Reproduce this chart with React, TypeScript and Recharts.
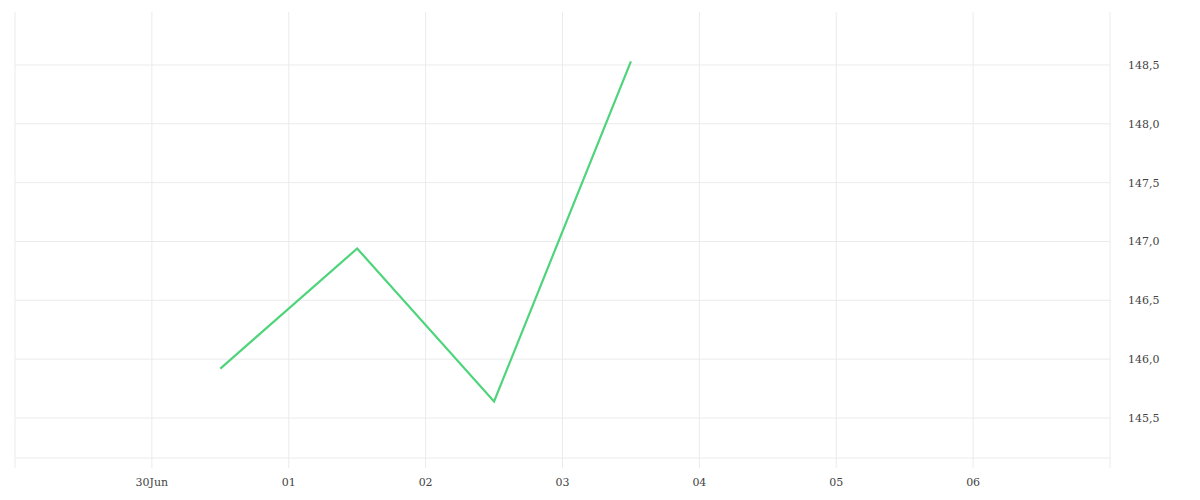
import React from 'react';
import { CartesianGrid, Line, LineChart, ReferenceLine, XAxis, YAxis } from 'recharts';

const dates = ['2024-06-30T12:00:00Z', '2024-07-01T12:00:00Z', '2024-07-02T12:00:00Z', '2024-07-03T12:00:00Z'];
const prices = [145.92, 146.94, 145.64, 148.53];

const xTickDates = [
  '2024-06-29T00:00:00Z',
  '2024-06-30T00:00:00Z',
  '2024-07-01T00:00:00Z',
  '2024-07-02T00:00:00Z',
  '2024-07-03T00:00:00Z',
  '2024-07-04T00:00:00Z',
  '2024-07-05T00:00:00Z',
  '2024-07-06T00:00:00Z',
  '2024-07-07T00:00:00Z',
];
const xTickLabels = ['', '30Jun', '01', '02', '03', '04', '05', '06', ''];
const yTicks = [145.5, 146, 146.5, 147, 147.5, 148, 148.5];

const xTicks = xTickDates.map(d => Date.parse(d));
const data = dates.map((d, i) => ({ t: Date.parse(d), price: prices[i] }));

const FONT = '"DejaVu Serif", serif';
const GRID = '#ebebeb';

const formatX = (v: number) => {
  const i = xTicks.indexOf(v);
  return i >= 0 ? xTickLabels[i] : '';
};

const formatY = (v: number) => v.toFixed(1).replace('.', ',');

export default function App() {
  return (
    <LineChart width={1184} height={484} data={data} margin={{ top: 4, right: 0, bottom: 0, left: 7 }}>
      {/* vertical lines from the grid, horizontal ones only at labelled prices */}
      <CartesianGrid stroke={GRID} horizontal={false} />
      {yTicks.map(v => (
        <ReferenceLine key={v} y={v} stroke={GRID} />
      ))}
      <XAxis
        dataKey="t"
        type="number"
        domain={[xTicks[0], xTicks[xTicks.length - 1]]}
        ticks={xTicks}
        tickFormatter={formatX}
        interval={0}
        height={34}
        tickSize={10}
        tickMargin={10}
        axisLine={{ stroke: GRID }}
        tickLine={{ stroke: GRID }}
        tick={{ fontFamily: FONT, fontSize: 11, fill: '#444' }}
      />
      <YAxis
        orientation="right"
        domain={[145.16, 148.95]}
        allowDataOverflow
        ticks={yTicks}
        tickFormatter={formatY}
        width={82}
        axisLine={false}
        tickLine={false}
        tickSize={0}
        tickMargin={18}
        tick={{ fontFamily: FONT, fontSize: 11, fill: '#444', textAnchor: 'start' }}
      />
      <Line
        dataKey="price"
        type="linear"
        stroke="#4ed47b"
        strokeWidth={2.2}
        dot={false}
        activeDot={false}
        isAnimationActive={false}
      />
    </LineChart>
  );
}
